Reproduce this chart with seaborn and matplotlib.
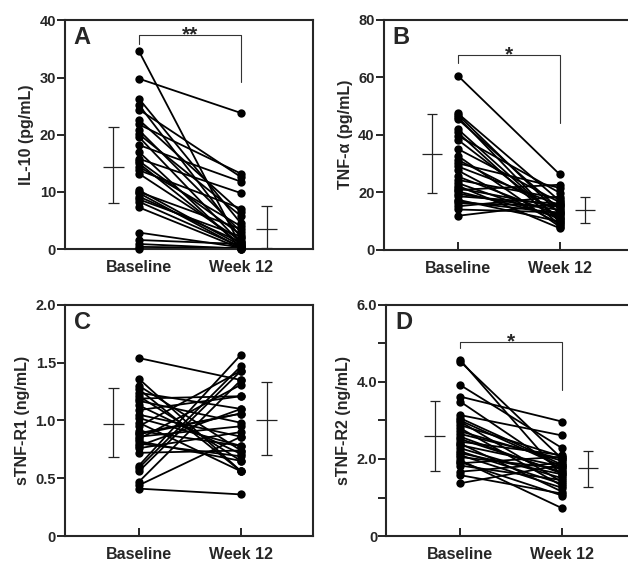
import pandas as pd
import seaborn as sns
import matplotlib.pyplot as plt

# paired values (one entry per subject)
il10_base = [34.6, 29.8, 26.3, 25.2, 24.4, 22.6, 21.8, 20.8, 20.1, 19.6, 18.2, 17.0, 15.8, 15.4, 15.0,
             14.4, 13.8, 13.2, 10.3, 10.0, 9.8, 9.2, 8.7, 8.3, 7.3, 2.9, 1.6, 0.9, 0.4, 0.1]
il10_wk12 = [0.5, 23.8, 4.5, 2.0, 12.6, 6.5, 13.2, 3.0, 5.8, 1.0, 11.8, 0.3, 9.8, 2.5, 0.8,
             4.0, 7.1, 1.5, 0.6, 3.5, 0.2, 1.2, 2.2, 0.4, 0.1, 0.3, 0.9, 0.1, 0.2, 0.0]

tnf_base = [60.6, 47.5, 47.0, 46.2, 45.5, 42.0, 40.8, 39.7, 38.3, 35.1, 32.7, 31.3, 30.1, 29.0, 27.6,
            25.5, 24.3, 23.2, 22.3, 21.4, 20.8, 20.3, 19.5, 18.6, 17.4, 16.8, 16.2, 15.1, 14.0, 11.8]
tnf_wk12 = [26.2, 17.0, 12.5, 9.5, 14.0, 10.2, 8.5, 19.8, 11.0, 16.5, 8.0, 13.2, 21.5, 15.5, 9.0,
            12.0, 17.8, 10.8, 7.5, 14.8, 22.6, 11.5, 13.8, 16.0, 9.8, 12.8, 15.2, 18.5, 13.0, 16.0]

r1_base = [1.54, 1.36, 1.30, 1.24, 1.21, 1.17, 1.13, 1.09, 1.05, 0.98, 0.95, 0.91, 0.89, 0.86, 0.84,
           0.82, 0.78, 0.76, 0.72, 0.61, 0.59, 0.56, 0.47, 0.44, 0.41, 1.19, 1.02, 0.88, 0.80, 1.27]
r1_wk12 = [1.35, 0.56, 0.74, 1.10, 0.65, 0.98, 0.71, 1.21, 0.86, 0.56, 1.43, 0.78, 1.06, 0.95, 1.31,
           0.65, 1.10, 0.90, 0.74, 1.57, 1.47, 1.43, 1.35, 0.86, 0.36, 1.21, 0.78, 1.06, 0.69, 0.56]

r2_base = [4.57, 4.53, 3.92, 3.62, 3.49, 3.14, 3.06, 2.97, 2.88, 2.80, 2.72, 2.58, 2.45, 2.40, 2.36,
           2.28, 2.20, 2.10, 2.05, 1.97, 1.89, 1.83, 1.67, 1.58, 1.37, 2.52, 2.65, 2.15, 1.92, 3.00]
r2_wk12 = [1.55, 2.00, 2.28, 2.97, 1.70, 2.61, 1.85, 1.40, 2.06, 1.30, 1.95, 1.62, 2.10, 1.15, 1.80,
           1.50, 1.35, 1.25, 1.75, 0.72, 2.06, 1.45, 1.90, 1.10, 1.85, 1.65, 2.00, 1.60, 1.05, 1.80]

# summary crosses: centre, lower, upper (baseline, week 12)
il10_mid, il10_lo, il10_hi = [14.3, 3.6], [8.0, 0.2], [21.4, 7.6]
tnf_mid, tnf_lo, tnf_hi = [33.3, 13.8], [19.9, 9.2], [47.2, 18.2]
r1_mid, r1_lo, r1_hi = [0.97, 1.00], [0.68, 0.70], [1.28, 1.33]
r2_mid, r2_lo, r2_hi = [2.60, 1.77], [1.70, 1.28], [3.50, 2.22]

groups = ['Baseline', 'Week 12']
labels = ['A', 'B', 'C', 'D']
ylabels = ['IL-10 (pg/mL)', 'TNF-α (pg/mL)', 'sTNF-R1 (ng/mL)', 'sTNF-R2 (ng/mL)']
ymax = [40, 80, 2.0, 6.0]
yticks = [[0, 10, 20, 30, 40], [0, 20, 40, 60, 80], [0, 0.5, 1.0, 1.5, 2.0], [0, 2, 4, 6]]
yticklabels = [['0', '10', '20', '30', '40'], ['0', '20', '40', '60', '80'],
               ['0', '0.5', '1.0', '1.5', '2.0'], ['0', '2.0', '4.0', '6.0']]
# significance brackets: text, top, left drop, right drop (None = no bracket)
brackets = [('**', 37.4, 35.9, 29.2), ('*', 67.8, 64.9, 44.1), None, ('*', 5.03, 4.87, 3.79)]

sns.set_style('ticks')
plt.rcParams['font.family'] = ['Liberation Sans', 'DejaVu Sans']
plt.rcParams['font.weight'] = 'bold'


def long_form(base, wk12):
    n = len(base)
    return pd.DataFrame({
        'subject': list(range(n)) * 2,
        'pos': [0] * n + [1] * n,
        'value': base + wk12,
    })


panels = [
    (il10_base, il10_wk12, il10_mid, il10_lo, il10_hi),
    (tnf_base, tnf_wk12, tnf_mid, tnf_lo, tnf_hi),
    (r1_base, r1_wk12, r1_mid, r1_lo, r1_hi),
    (r2_base, r2_wk12, r2_mid, r2_lo, r2_hi),
]

fig = plt.figure(figsize=(6.28, 5.65), dpi=100)
rects = [[0.1035, 0.559, 0.395, 0.405], [0.611, 0.558, 0.395, 0.407],
         [0.1035, 0.0513, 0.395, 0.409], [0.615, 0.0513, 0.395, 0.409]]

for i, (base, wk12, mid, lo, hi) in enumerate(panels):
    ax = fig.add_axes(rects[i])
    df = long_form(base, wk12)
    sns.lineplot(data=df, x='pos', y='value', units='subject', estimator=None,
                 color='black', linewidth=1.3, ax=ax, legend=False)
    sns.scatterplot(data=df, x='pos', y='value', color='black', s=36,
                    edgecolor='black', linewidth=0, ax=ax, legend=False, clip_on=False, zorder=4)

    # mean / spread crosses beside each column
    for j, xc in enumerate([-0.25, 1.25]):
        ax.vlines(xc, lo[j], hi[j], color='#222222', linewidth=0.9)
        ax.hlines([lo[j], hi[j]], xc - 0.05, xc + 0.05, color='#222222', linewidth=0.9)
        ax.hlines(mid[j], xc - 0.1, xc + 0.1, color='#222222', linewidth=0.9)

    if brackets[i] is not None:
        txt, top, left_drop, right_drop = brackets[i]
        ax.plot([0, 0, 1, 1], [left_drop, top, top, right_drop], color='#333333', linewidth=0.8)
        ax.annotate(txt, (0.5, top), xytext=(0, -4), textcoords='offset points',
                    ha='center', va='baseline', fontsize=15, fontweight='bold')

    ax.set_xlim(-0.725, 1.706)
    ax.set_ylim(0, ymax[i])
    ax.set_xticks([0, 1])
    ax.set_xticklabels(groups, fontsize=11.5, fontweight='bold')
    ax.set_yticks(yticks[i])
    ax.set_yticklabels(yticklabels[i], fontsize=10.5, fontweight='bold')
    if i == 3:
        ax.set_yticks([1, 3, 5], minor=True)
    ax.tick_params(axis='x', direction='in', length=6, width=1.4, pad=8)
    ax.tick_params(axis='y', which='both', direction='out', length=6, width=1.4, pad=0.5)
    ax.set_xlabel('')
    ax.set_ylabel(ylabels[i], fontsize=11.5, fontweight='bold', labelpad=4)
    for sp in ax.spines.values():
        sp.set_visible(True)
        sp.set_linewidth(1.5)
    ax.text(0.035, 0.975, labels[i], transform=ax.transAxes, ha='left', va='top',
            fontsize=17, fontweight='bold')

fig.savefig('out.png', dpi=100)
